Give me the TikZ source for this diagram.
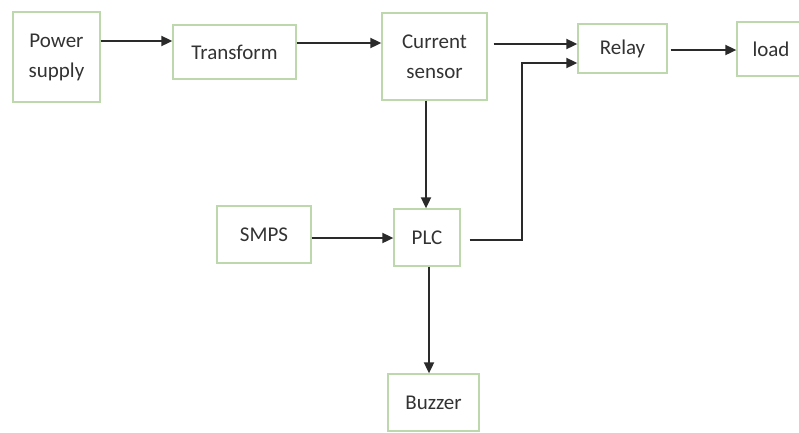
\documentclass[tikz,border=0pt]{standalone}
\usepackage{fontspec}
\setmainfont{Carlito}
\usetikzlibrary{arrows.meta}
\definecolor{boxgreen}{HTML}{BCD8AC}
\definecolor{txtgray}{HTML}{333333}
\definecolor{linegray}{HTML}{2A2A2A}
\tikzset{
  blk/.style={draw=boxgreen, line width=1.3pt, fill=white, rectangle, inner sep=0pt,
    align=center, text=txtgray, font=\fontsize{21}{30}\selectfont},
  arr/.style={draw=linegray, line width=1.8pt, -{Triangle[length=11pt,width=10pt]}},
  ln/.style={draw=linegray, line width=1.8pt}
}
\begin{document}
\begin{tikzpicture}[x=1pt,y=-1pt]
\useasboundingbox (0,0) rectangle (799,432);
\node[blk, minimum width=87pt, minimum height=90pt] (ps) at (56.5,57) {Power\\supply};
\node[blk, minimum width=123pt, minimum height=54pt] (tr) at (234.5,52) {Transform};
\node[blk, minimum width=105pt, minimum height=87pt] (cs) at (434.5,56.5) {Current\\sensor};
\node[blk, minimum width=89pt, minimum height=49pt] (rl) at (622.5,48.5) {Relay};
\node[blk, minimum width=68pt, minimum height=54pt] (ld) at (771,49) {load};
\node[blk, minimum width=94pt, minimum height=57pt] (sm) at (264,234.5) {SMPS};
\node[blk, minimum width=66pt, minimum height=57pt] (plc) at (427,237.5) {PLC};
\node[blk, minimum width=91pt, minimum height=57pt] (bz) at (433.5,402.5) {Buzzer};
\coordinate (c1) at (522,240);
\coordinate (c2) at (522,63);
\draw[arr] (ps.east |- 0,41) -- (tr.west |- 0,41);
\draw[arr] (tr.east |- 0,43) -- (cs.west |- 0,43);
\draw[arr] ([xshift=6pt]cs.east |- 0,44) -- (rl.west |- 0,44);
\draw[arr] ([xshift=3pt]rl.east |- 0,50) -- (ld.west |- 0,50);
\draw[arr] (426,0 |- cs.south) -- (426,0 |- plc.north);
\draw[arr] (sm.east |- 0,238) -- (plc.west |- 0,238);
\draw[arr] ([xshift=9pt]plc.east |- 0,240) -- (c1) -- (c2) -- (rl.west |- c2);
\draw[arr] (429,0 |- plc.south) -- (429,0 |- bz.north);
\end{tikzpicture}
\end{document}
